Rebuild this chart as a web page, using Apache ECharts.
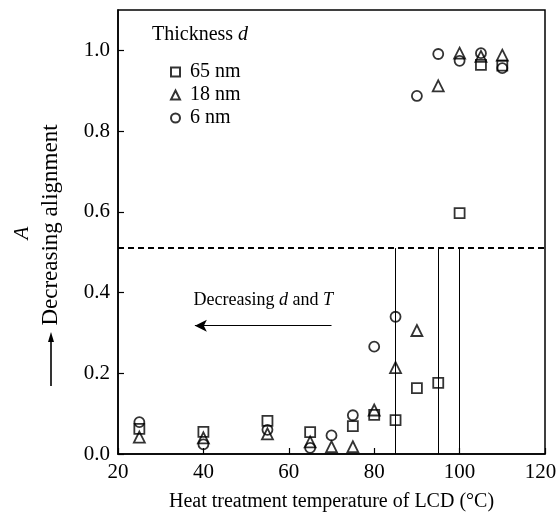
<!DOCTYPE html>
<html>
<head>
<meta charset="utf-8">
<script src="https://cdn.jsdelivr.net/npm/echarts@6/dist/echarts.min.js"></script>
<style>
  html, body { margin: 0; padding: 0; background: #fff; }
  #chart { width: 557px; height: 518px; }
</style>
</head>
<body>
<div id="chart"></div>
<script>
// values: [temperature (°C), A]
var nm65 = [[25, 0.062], [40, 0.055], [55, 0.082], [65, 0.054], [75, 0.069], [80, 0.097],
            [85, 0.084], [90, 0.163], [95, 0.176], [100, 0.597], [105, 0.964], [110, 0.962]];
var nm18 = [[25, 0.042], [40, 0.040], [55, 0.050], [65, 0.030], [70, 0.018], [75, 0.018],
            [80, 0.109], [85, 0.214], [90, 0.306], [95, 0.912], [100, 0.993], [105, 0.985], [110, 0.988]];
var nm6 = [[25, 0.079], [40, 0.024], [55, 0.060], [65, 0.015], [70, 0.046], [75, 0.096],
           [80, 0.266], [85, 0.340], [90, 0.887], [95, 0.991], [100, 0.974], [105, 0.993], [110, 0.956]];
var seriesNames = ['65 nm', '18 nm', '6 nm'];
var refTemps = [85, 95, 100];   // vertical guide lines
var threshold = 0.51;           // dashed line
var arrowFrom = 70, arrowTo = 38, arrowY = 0.318;

var serif = '"Liberation Serif", "DejaVu Serif", serif';

var myChart = echarts.init(document.getElementById('chart'));

function markerSeries(name, symbol, data, size) {
    return {
        name: name,
        type: 'scatter',
        symbol: symbol,
        symbolSize: size,
        data: data,
        itemStyle: { color: 'rgba(0,0,0,0)', borderColor: '#000', borderWidth: 1.8 },
        z: 3
    };
}

var vLines = refTemps.map(function (t) {
    return [{ coord: [t, 0] }, { coord: [t, threshold] }];
});

var option = {
    animation: false,
    backgroundColor: '#fff',
    textStyle: { fontFamily: serif, color: '#000' },
    grid: {
        left: 118, right: 12, top: 10, bottom: 64, outerBoundsMode: 'none',
        show: true, borderColor: '#000', borderWidth: 1.5
    },
    xAxis: {
        type: 'value', min: 20, max: 120, interval: 20,
        name: 'Heat treatment temperature of LCD (°C)',
        nameLocation: 'middle', nameGap: 38,
        nameTextStyle: { fontSize: 20, fontFamily: serif, color: '#000' },
        axisLine: { lineStyle: { color: '#000', width: 1.5 } },
        axisTick: { inside: true, length: 6, lineStyle: { color: '#000', width: 1.2 } },
        axisLabel: {
            fontSize: 21, fontFamily: serif, color: '#000', margin: 8,
            // last label sits a little left of its tick so it stays inside the page
            formatter: function (v) { return v === 120 ? '{r|' + v + '}' : String(v); },
            rich: { r: { fontSize: 21, fontFamily: serif, color: '#000', padding: [0, 9, 0, 0] } }
        },
        splitLine: { show: false }
    },
    yAxis: {
        type: 'value', min: 0, max: 1.1, interval: 0.2,
        axisLine: { lineStyle: { color: '#000', width: 1.5 } },
        axisTick: { inside: true, length: 6, lineStyle: { color: '#000', width: 1.2 } },
        axisLabel: {
            fontSize: 21, fontFamily: serif, color: '#000', margin: 8, showMaxLabel: false,
            formatter: function (v) { return v.toFixed(1); }
        },
        splitLine: { show: false }
    },
    title: {
        text: 'Thickness {i|d}',
        left: 147, top: 20,
        textStyle: {
            fontSize: 20, fontWeight: 'normal', fontFamily: serif, color: '#000',
            rich: { i: { fontStyle: 'italic', fontSize: 20, fontFamily: serif } }
        }
    },
    legend: {
        data: seriesNames,
        orient: 'vertical',
        left: 170, top: 62, padding: 0,
        itemWidth: 9, itemHeight: 9, itemGap: 3,
        textStyle: { fontSize: 20, fontFamily: serif, color: '#000', padding: [0, 0, 0, 5] }
    },
    graphic: [
        { type: 'text', x: 22, y: 233, rotation: Math.PI / 2,
          style: { text: 'A', font: 'italic 21px ' + serif, fill: '#000', align: 'center', verticalAlign: 'middle' } },
        { type: 'text', x: 51, y: 225, rotation: Math.PI / 2,
          style: { text: 'Decreasing alignment', font: '23px ' + serif, fill: '#000', align: 'center', verticalAlign: 'middle' } },
        { type: 'line', shape: { x1: 51, y1: 386, x2: 51, y2: 340 }, style: { stroke: '#000', lineWidth: 1.6 } },
        { type: 'polygon', shape: { points: [[51, 332], [48, 342], [54, 342]] }, style: { fill: '#000' } }
    ],
    series: [
        markerSeries(seriesNames[0], 'rect', nm65, 10),
        markerSeries(seriesNames[1], 'triangle', nm18, 11),
        markerSeries(seriesNames[2], 'circle', nm6, 10),
        {
            name: 'guides',
            type: 'line',
            data: [],
            silent: true,
            markLine: {
                silent: true,
                symbol: 'none',
                label: { show: false },
                lineStyle: { color: '#000', width: 1, type: 'solid' },
                data: vLines.concat([
                    { yAxis: threshold, lineStyle: { type: [6, 4], width: 1.8, color: '#000' } }
                ])
            }
        },
        {
            name: 'arrow',
            type: 'line',
            data: [],
            silent: true,
            markLine: {
                silent: true,
                symbol: ['none', 'arrow'],
                symbolSize: [9, 12],
                lineStyle: { color: '#000', width: 1.2, type: 'solid' },
                label: {
                    show: true, position: 'middle', distance: 16,
                    formatter: 'Decreasing {i|d} and {i|T}',
                    fontSize: 18, fontFamily: serif, color: '#000',
                    rich: { i: { fontStyle: 'italic', fontSize: 18, fontFamily: serif, color: '#000' } }
                },
                data: [[{ coord: [arrowFrom, arrowY] }, { coord: [arrowTo, arrowY] }]]
            }
        }
    ]
};

myChart.setOption(option);
</script>
</body>
</html>
